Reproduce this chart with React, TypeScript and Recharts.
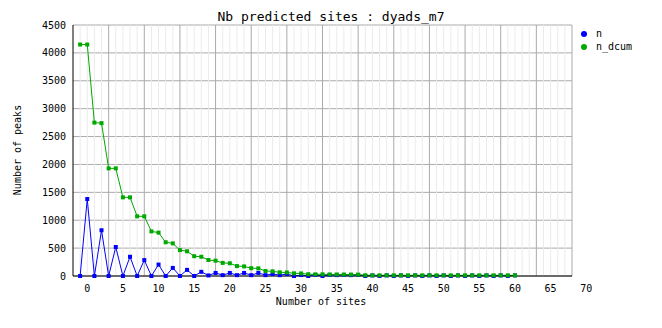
import React from "react";
import { LineChart, Line, XAxis, YAxis, CartesianGrid, ReferenceLine } from "recharts";

const xs = [
  -1, 0, 1, 2, 3, 4, 5, 6, 7, 8, 9, 10, 11, 12, 13, 14, 15, 16, 17, 18, 19, 20,
  21, 22, 23, 24, 25, 26, 27, 28, 29, 30, 31, 32, 33, 34, 35, 36, 37, 38, 39, 40,
  41, 42, 43, 44, 45, 46, 47, 48, 49, 50, 51, 52, 53, 54, 55, 56, 57, 58, 59, 60,
];

const nValues = [
  0, 1380, 0, 820, 0, 520, 0, 345, 0, 285, 0, 205, 0, 145, 0, 110, 0, 75, 10, 55, 15, 55,
  15, 55, 15, 55, 15, 36, 15, 36, 0, 18, 0, 18, 0, 18, 15, 18, 15, 18, 0, 10,
  0, 10, 0, 10, 0, 10, 0, 10, 0, 10, 0, 10, 0, 10, 0, 10, 0, 10, 0, 10,
];

const nDcumValues = [
  4150, 4150, 2750, 2740, 1930, 1930, 1410, 1410, 1070, 1070, 800, 778, 605, 585, 465, 443,
  355, 345, 287, 275, 235, 228, 178, 172, 140, 137, 90, 84, 66, 64, 48, 46, 32, 30, 30, 28,
  28, 27, 26, 25, 14, 12, 12, 12, 12, 12, 12, 12, 12, 12, 12, 12, 12, 12, 12, 12, 12, 12,
  12, 12, 12, 12,
];

const xTicks = [0, 5, 10, 15, 20, 25, 30, 35, 40, 45, 50, 55, 60, 65, 70];
const yTicks = [0, 500, 1000, 1500, 2000, 2500, 3000, 3500, 4000, 4500];
const majorGridX = [3, 8, 13, 18, 23, 28, 33, 38, 43, 48, 53, 58, 63, 68];
const minorGridX = Array.from({ length: 69 }, (_, i) => i - 1).filter(
  (v) => !majorGridX.includes(v)
);

const data = xs.map((x, i) => ({ x, n: nValues[i], n_dcum: nDcumValues[i] }));

const BLUE = "#0000ff";
const GREEN = "#00a800";
const FONT = "'DejaVu Sans Mono', monospace";

function squareDot(color: string) {
  return (props: any) => {
    const { cx, cy, index } = props;
    if (cx == null || cy == null) return <g key={index} />;
    return <rect key={index} x={cx - 2} y={cy - 2} width={4} height={4} fill={color} />;
  };
}

export default function App() {
  return (
    <div style={{ position: "absolute", left: 0, top: 0, width: 662, height: 328, background: "#fff" }}>
      <LineChart
        width={662}
        height={328}
        data={data}
        margin={{ top: 25, right: 90, bottom: 0, left: 0 }}
      >
        <CartesianGrid vertical={false} stroke="#aaaaaa" strokeDasharray="" />
        {minorGridX.map((v) => (
          <ReferenceLine key={"m" + v} x={v} stroke="#ebebeb" strokeWidth={1} />
        ))}
        {majorGridX.map((v) => (
          <ReferenceLine key={"M" + v} x={v} stroke="#aaaaaa" strokeWidth={1} />
        ))}
        <XAxis
          dataKey="x"
          type="number"
          domain={[-2, 68]}
          ticks={xTicks}
          interval={0}
          height={52}
          tickSize={0}
          tickMargin={9}
          axisLine={{ stroke: "#000" }}
          tick={{ fontSize: 10, fill: "#000", fontFamily: FONT }}
        />
        <YAxis
          type="number"
          domain={[0, 4500]}
          ticks={yTicks}
          interval={0}
          width={73}
          tickSize={0}
          tickMargin={7}
          axisLine={{ stroke: "#000" }}
          tick={{ fontSize: 10, fill: "#000", fontFamily: FONT }}
        />
        <Line
          dataKey="n"
          type="linear"
          stroke={BLUE}
          strokeWidth={1}
          dot={squareDot(BLUE)}
          activeDot={false}
          isAnimationActive={false}
        />
        <Line
          dataKey="n_dcum"
          type="linear"
          stroke={GREEN}
          strokeWidth={1}
          dot={squareDot(GREEN)}
          activeDot={false}
          isAnimationActive={false}
        />
      </LineChart>
      <svg
        width={662}
        height={328}
        style={{ position: "absolute", left: 0, top: 0, pointerEvents: "none" }}
        fontFamily={FONT}
      >
        <text x={331} y={21} fontSize={13} textAnchor="middle" fill="#000">
          Nb predicted sites : dyads_m7
        </text>
        <text x={321} y={305} fontSize={10} textAnchor="middle" fill="#000">
          Number of sites
        </text>
        <text
          x={21}
          y={150}
          fontSize={10}
          textAnchor="middle"
          fill="#000"
          transform="rotate(-90, 21, 150)"
        >
          Number of peaks
        </text>
        <circle cx={584} cy={34} r={3} fill={BLUE} />
        <text x={596} y={37} fontSize={10} fill="#000">n</text>
        <circle cx={584} cy={47} r={3} fill={GREEN} />
        <text x={596} y={50} fontSize={10} fill="#000">n_dcum</text>
      </svg>
    </div>
  );
}
